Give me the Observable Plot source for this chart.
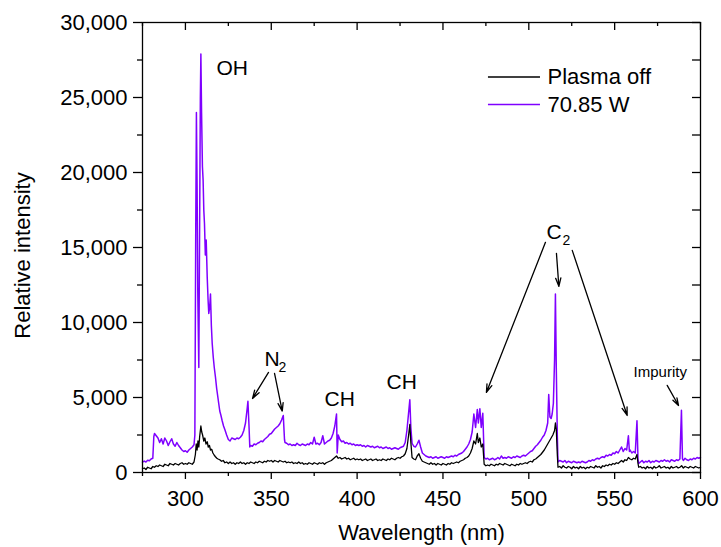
<!DOCTYPE html>
<html>
<head>
<meta charset="utf-8">
<script src="https://cdn.jsdelivr.net/npm/d3@7"></script>
<script src="https://cdn.jsdelivr.net/npm/@observablehq/plot@0.6"></script>
<style>
  html, body { margin: 0; padding: 0; background: #fff; }
</style>
</head>
<body>
<div id="chart"></div>
<script>
// ---------- data (wavelength nm, relative intensity) ----------
const power7085 = [
[275,690],[276,760],[277,700],[278,820],[279,780],[280,900],[281,950],[281.6,2400],[282,2600],[283,2450],
[284,2300],[285,2000],[286,2250],[287,1900],[288,2300],[289,2100],[290,1800],[291,2050],[292,2250],[293,1900],
[294,1750],[295,2000],[296,1800],[297,1650],[298,1500],[299,1400],[300,1450],[301,1350],[302,1500],[303,1600],
[304,1700],[305,1850],[305.5,2500],[306,16000],[306.4,24000],[306.8,19000],[307.2,12000],[307.8,7000],[308.3,17000],[308.7,25000],
[309,27900],[309.4,24000],[309.9,20400],[310.3,19500],[310.7,17500],[311.1,16600],[311.6,14500],[312.1,15500],[312.7,13000],[313.2,11500],
[313.6,10600],[314.1,11000],[314.6,11900],[315.1,9800],[315.6,8600],[316.2,7700],[316.8,7000],[317.5,6350],[318.2,5600],[318.8,5100],
[319.4,4600],[320,4100],[320.7,3800],[321.4,3450],[322.2,3100],[323,2850],[324,2500],[325,2200],[326,2100],[327,2300],
[328,2250],[329,2200],[330,2300],[331,2250],[332,2350],[333,2500],[334,2800],[335,3300],[336,4300],[336.4,4750],
[337,3200],[337.5,1700],[338,1800],[339,1750],[340,1900],[341,1850],[342,1950],[343,2000],[344,2100],[345,2050],
[346,2200],[347,2300],[348,2400],[349,2550],[350,2600],[351,2750],[352,2900],[353,3000],[354,3100],[355,3250],
[356,3500],[357,3800],[357.7,2200],[358,2000],[359,1950],[360,1850],[361,1900],[362,1800],[363,1850],[364,1800],
[365,1950],[366,1850],[367,1800],[368,1900],[369,1850],[370,1800],[371,1900],[372,1850],[373,2000],[374,1900],
[375,2350],[376,1900],[377,1950],[378,1850],[379,2000],[380,2450],[381,1900],[382,2000],[383,2100],[384,2150],
[385,2300],[386,2600],[387,3100],[388,3900],[388.4,1300],[389,2500],[390,2200],[391,2050],[392,2100],[393,1950],
[394,2000],[395,1900],[396,1950],[397,1850],[398,1900],[399,1800],[400,1850],[401,1800],[402,1850],[403,1750],
[404,1800],[405,1700],[406,1800],[407,1750],[408,1700],[409,1750],[410,1650],[411,1700],[412,1750],[413,1650],
[414,1700],[415,1600],[416,1650],[417,1700],[418,1600],[419,1650],[420,1550],[421,1600],[422,1650],[423,1600],
[424,1550],[425,1650],[426,1700],[427,1750],[428,2000],[429,2800],[430,4000],[430.7,4850],[431.3,3000],[432,1950],
[433,1750],[434,1700],[435,1900],[436,2150],[437,1700],[438,1300],[439,1200],[440,1100],[441,1050],[442,1000],
[443,1050],[444,950],[445,1000],[446,1050],[447,950],[448,1000],[449,1050],[450,1000],[451,950],[452,1050],
[453,1000],[454,1050],[455,1100],[456,1050],[457,1150],[458,1100],[459,1200],[460,1250],[461,1300],[462,1400],
[463,1550],[464,1700],[465,1900],[466,2200],[467,2700],[468,3900],[469,3000],[470,4200],[470.6,3300],[471.5,4250],
[472.3,3000],[473.2,3950],[474,1000],[475,900],[476,950],[477,850],[478,900],[479,950],[480,850],[481,900],
[482,1000],[483,900],[484,1100],[485,950],[486,1000],[487,950],[488,1050],[489,1000],[490,950],[491,1050],
[492,1000],[493,1100],[494,1050],[495,1000],[496,1100],[497,1150],[498,1100],[499,1200],[500,1300],[501,1400],
[502,1450],[503,1600],[504,1750],[505,1850],[506,2000],[507,2150],[508,2350],[509,2500],[510,2800],[511,3300],
[511.6,5200],[512.3,3700],[513,3600],[513.6,3900],[514.3,4600],[515,7500],[515.5,11900],[516,7000],[516.6,2500],[517,700],
[518,800],[519,750],[520,700],[521,800],[522,650],[523,750],[524,700],[525,650],[526,750],[527,700],
[528,650],[529,700],[530,650],[531,750],[532,700],[533,650],[534,700],[535,800],[536,750],[537,850],
[538,800],[539,900],[540,950],[541,900],[542,1000],[543,1050],[544,1000],[545,1150],[546,1100],[547,1200],
[548,1150],[549,1300],[550,1250],[551,1400],[552,1300],[553,1500],[554,1700],[555,1400],[556,1600],[557,1500],
[558,2450],[558.6,1400],[559,1500],[560,1300],[561,1400],[562,1300],[563,3450],[563.6,900],[564,600],[565,700],
[566,800],[567,650],[568,750],[569,700],[570,800],[571,650],[572,750],[573,700],[574,800],[575,750],
[576,700],[577,800],[578,750],[579,850],[580,750],[581,800],[582,700],[583,850],[584,800],[585,750],
[586,850],[587,800],[588,900],[588.9,4150],[589.5,900],[590,800],[591,950],[592,850],[593,800],[594,900],
[595,850],[596,950],[597,900],[598,1000],[599,950],[600,1000]
];

const plasmaOff = [
[275,250],[276,300],[277,200],[278,350],[279,300],[280,250],[281,400],[282,350],[283,450],[284,400],
[285,500],[286,450],[287,400],[288,550],[289,500],[290,450],[291,600],[292,550],[293,500],[294,600],
[295,550],[296,500],[297,600],[298,650],[299,550],[300,600],[301,550],[302,650],[303,600],[304,550],
[305,700],[305.8,1200],[306.3,1900],[306.8,1500],[307.3,2100],[307.8,1700],[308.3,2400],[309,3100],[309.5,2700],[310,2500],
[310.7,2100],[311.3,2300],[312,1900],[312.7,2050],[313.3,1700],[314,1800],[314.6,1500],[315.3,1550],[316,1300],[316.8,1150],
[317.5,1050],[318.3,950],[319,900],[320,850],[321,750],[322,800],[323,650],[324,700],[325,600],[326,700],
[327,600],[328,650],[329,550],[330,650],[331,600],[332,700],[333,600],[334,650],[335,550],[336,650],
[337,600],[338,700],[339,650],[340,600],[341,700],[342,650],[343,750],[344,700],[345,650],[346,750],
[347,700],[348,800],[349,750],[350,800],[351,700],[352,800],[353,750],[354,700],[355,800],[356,750],
[357,700],[358,750],[359,650],[360,700],[361,650],[362,700],[363,600],[364,650],[365,600],[366,700],
[367,600],[368,650],[369,550],[370,600],[371,550],[372,650],[373,600],[374,550],[375,650],[376,600],
[377,550],[378,650],[379,600],[380,650],[381,550],[382,650],[383,700],[384,750],[385,800],[386,900],
[387,1000],[388,1100],[389,950],[390,1000],[391,900],[392,950],[393,1000],[394,900],[395,950],[396,850],
[397,900],[398,950],[399,850],[400,900],[401,850],[402,900],[403,800],[404,850],[405,900],[406,800],
[407,850],[408,900],[409,800],[410,850],[411,900],[412,800],[413,850],[414,800],[415,900],[416,850],
[417,800],[418,900],[419,850],[420,950],[421,900],[422,850],[423,950],[424,1000],[425,950],[426,1050],
[427,1100],[428,1250],[429,1600],[430,2500],[430.7,3200],[431.3,2000],[432,1000],[433,900],[434,850],[435,1100],
[436,1250],[437,950],[438,750],[439,700],[440,650],[441,600],[442,550],[443,650],[444,550],[445,600],
[446,500],[447,600],[448,550],[449,500],[450,600],[451,550],[452,500],[453,600],[454,550],[455,650],
[456,600],[457,650],[458,700],[459,650],[460,750],[461,800],[462,850],[463,950],[464,1000],[465,1100],
[466,1300],[467,1600],[468,2100],[469,1900],[470,2600],[470.6,2000],[471.5,2300],[472.3,1700],[473.2,1900],[474,550],
[475,450],[476,500],[477,450],[478,550],[479,500],[480,450],[481,550],[482,500],[483,600],[484,550],
[485,500],[486,600],[487,550],[488,500],[489,450],[490,550],[491,500],[492,450],[493,550],[494,500],
[495,600],[496,550],[497,600],[498,650],[499,600],[500,700],[501,750],[502,700],[503,850],[504,900],
[505,1000],[506,1100],[507,1200],[508,1350],[509,1500],[510,1700],[511,1900],[512,2100],[513,2300],[514,2500],
[515,2800],[515.5,3300],[516,2900],[516.6,1200],[517,350],[518,400],[519,300],[520,450],[521,350],[522,300],
[523,400],[524,350],[525,250],[526,400],[527,300],[528,350],[529,250],[530,400],[531,300],[532,350],
[533,250],[534,350],[535,300],[536,400],[537,350],[538,300],[539,450],[540,350],[541,400],[542,300],
[543,450],[544,400],[545,500],[546,450],[547,550],[548,500],[549,600],[550,550],[551,650],[552,600],
[553,700],[554,800],[555,700],[556,850],[557,800],[558,1000],[559,900],[560,850],[561,950],[562,900],
[563,1200],[563.6,600],[564,350],[565,400],[566,300],[567,350],[568,250],[569,400],[570,300],[571,350],
[572,250],[573,400],[574,300],[575,350],[576,450],[577,300],[578,350],[579,400],[580,300],[581,350],
[582,250],[583,400],[584,300],[585,350],[586,400],[587,300],[588,350],[589,450],[590,300],[591,400],
[592,350],[593,300],[594,400],[595,350],[596,300],[597,400],[598,350],[599,300],[600,350]
];

// ---------- axes ----------
const xDomain = [275, 600];
const yDomain = [0, 30000];
const xMajorTicks = [300, 350, 400, 450, 500, 550, 600];
const xMinorTicks = [275, 325, 375, 425, 475, 525, 575];
const yMajorTicks = [0, 5000, 10000, 15000, 20000, 25000, 30000];
const yMinorTicks = [2500, 7500, 12500, 17500, 22500, 27500];
const xTitle = "Wavelength (nm)";
const yTitle = "Relative intensity";

// ---------- legend ----------
const legendNames = ["Plasma off", "70.85 W"];
const legendColors = ["#000000", "#7f00ff"];
const legendRowY = [26370, 24530];

// ---------- annotations ----------
const labelTexts = ["OH", "N", "2", "CH", "CH", "C", "2", "Impurity"];
const labelNm    = [318.1, 346.0, 354.2, 381.0, 417.1, 510.3, 519.6, 561.0];
const labelI     = [26980, 7565, 6971, 4897, 6031, 16037, 15443, 6658];
const labelSizes = [21, 21, 14, 21, 21, 21, 14, 15];

const arrowFromNm = [348.4, 351.9, 509.7, 516.1, 525.3, 580.6];
const arrowFromI  = [6671, 6604, 15343, 14609, 14810, 5804];
const arrowToNm   = [339.1, 356.4, 475.3, 517.5, 557.3, 587.2];
const arrowToI    = [4937, 4089, 5337, 12408, 3802, 4470];

// ---------- build ----------
const W = 721, H = 547, ML = 142, MR = 21, MT = 22, MB = 75;
const pxPerNm = (W - ML - MR) / (xDomain[1] - xDomain[0]);
const pxPerI = (H - MT - MB) / (yDomain[1] - yDomain[0]);

const labels = labelTexts.map((t, i) => ({t, x: labelNm[i], y: labelI[i], s: labelSizes[i]}));
const arrows = arrowFromNm.map((x1, i) => ({x1, y1: arrowFromI[i], x2: arrowToNm[i], y2: arrowToI[i]}));
const legend = legendNames.map((name, i) => ({name, color: legendColors[i], y: legendRowY[i]}));
const legendX1 = 476.5, legendX2 = 506.8, legendTextX = 510.9;

const fmt = d3.format(",");
const blank = () => "";
const yTop = yDomain[1], xRight = xDomain[1];

const chart = Plot.plot({
  width: W,
  height: H,
  marginLeft: ML,
  marginRight: MR,
  marginTop: MT,
  marginBottom: MB,
  style: {fontFamily: "'Liberation Sans', Arial, sans-serif", fontSize: "22px", background: "#fff", color: "#000"},
  x: {domain: xDomain},
  y: {domain: yDomain},
  marks: [
    Plot.line(power7085, {x: d => d[0], y: d => d[1], stroke: "#7f00ff", strokeWidth: 1.5}),
    Plot.line(plasmaOff, {x: d => d[0], y: d => d[1], stroke: "#000", strokeWidth: 1.3}),
    Plot.frame({stroke: "#000", strokeWidth: 1.3}),
    Plot.axisX(xMajorTicks, {anchor: "bottom", tickSize: 7, tickPadding: 11, strokeWidth: 1.3, fontSize: 22,
      label: xTitle, labelAnchor: "center", labelOffset: 67, labelArrow: "none"}),
    Plot.axisX(xMinorTicks, {anchor: "bottom", tickSize: 4, strokeWidth: 1.3, tickFormat: blank, label: null}),
    // mirrored inward ticks on the top and right edges
    Plot.ruleX(xMajorTicks, {x: d => d, y1: yTop, y2: yTop - 8 / pxPerI, stroke: "#000", strokeWidth: 1.3}),
    Plot.ruleX(xMinorTicks, {x: d => d, y1: yTop, y2: yTop - 4 / pxPerI, stroke: "#000", strokeWidth: 1.3}),
    Plot.ruleY(yMajorTicks.concat(yMinorTicks), {y: d => d, x1: xRight, x2: xRight - 8 / pxPerNm, stroke: "#000", strokeWidth: 1.3}),
    Plot.axisY(yMajorTicks, {anchor: "left", tickSize: 9, tickPadding: 6, strokeWidth: 1.3, fontSize: 22, tickFormat: fmt, label: null}),
    Plot.axisY(yMinorTicks, {anchor: "left", tickSize: 5, strokeWidth: 1.3, tickFormat: blank, label: null}),
    Plot.text([yTitle], {frameAnchor: "left", rotate: -90, dx: -120, dy: 8, fontSize: 22, lineAnchor: "middle", textAnchor: "middle", fill: "#000"}),
    Plot.ruleY(legend, {y: "y", x1: legendX1, x2: legendX2, stroke: "color", strokeWidth: 1.5}),
    Plot.text(legend, {x: legendTextX, y: "y", text: "name", textAnchor: "start", lineAnchor: "middle", fontSize: 22, fill: "#000"}),
    Plot.text(labels, {x: "x", y: "y", text: "t", fontSize: "s", textAnchor: "start", lineAnchor: "middle", fill: "#000"}),
    Plot.arrow(arrows, {x1: "x1", y1: "y1", x2: "x2", y2: "y2", stroke: "#000", strokeWidth: 1.3, headLength: 10, headAngle: 35, bend: 0})
  ]
});

document.getElementById("chart").appendChild(chart);
</script>
</body>
</html>
